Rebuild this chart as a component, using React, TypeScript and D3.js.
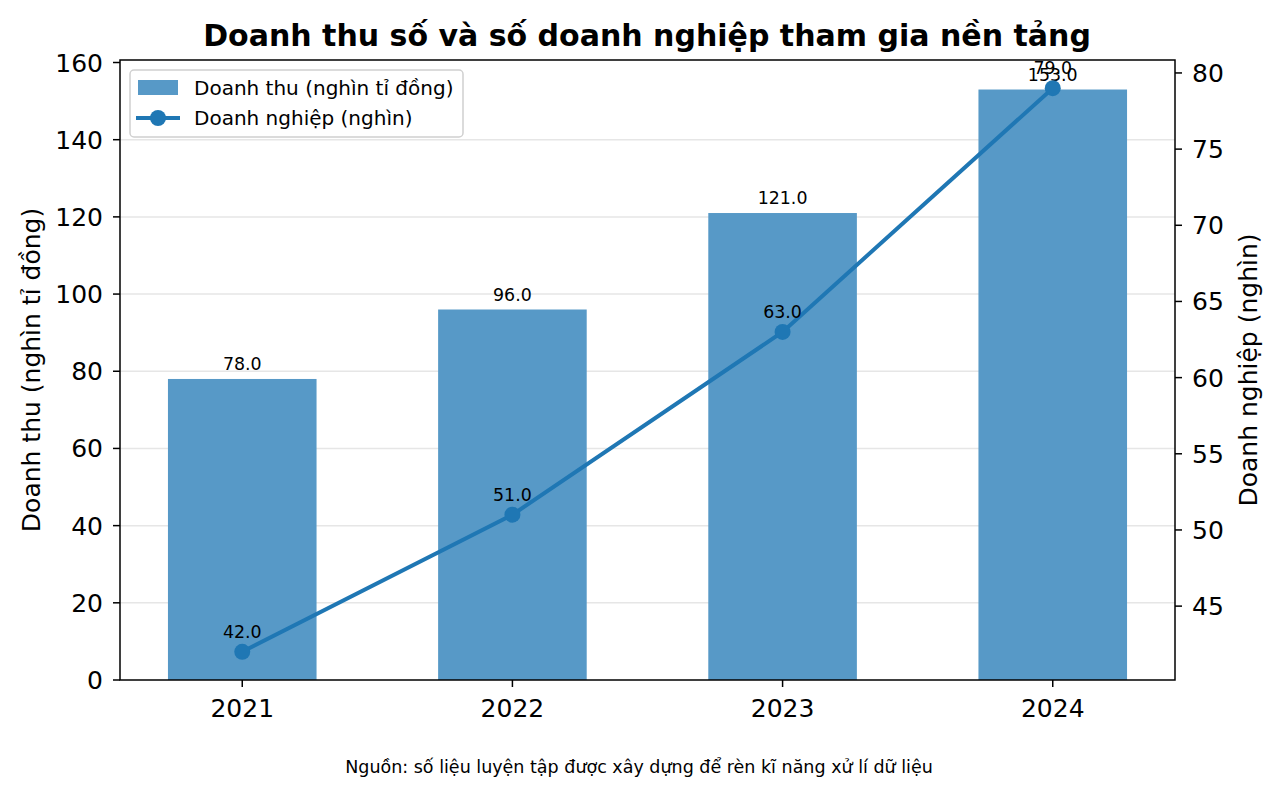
import * as d3 from "d3";

const years = ["2021", "2022", "2023", "2024"];
const revenue = [78, 96, 121, 153];
const firms = [42, 51, 63, 79];
const leftTicks = [0, 20, 40, 60, 80, 100, 120, 140, 160];
const rightTicks = [45, 50, 55, 60, 65, 70, 75, 80];

const W = 1277;
const H = 795;
const margin = { top: 60, right: 102, bottom: 115, left: 120 };
const chartW = W - margin.left - margin.right;
const chartH = H - margin.top - margin.bottom;

const font = "'DejaVu Sans', sans-serif";
const barColor = "#5799c7";
const lineColor = "#1f77b4";

export default function App() {
  const x = d3.scaleLinear().domain([-0.4525, 3.4525]).range([0, chartW]);
  const yL = d3.scaleLinear().domain([0, 160.65]).range([chartH, 0]);
  const yR = d3.scaleLinear().domain([40.15, 80.85]).range([chartH, 0]);
  const bw = x(0.55) - x(0);

  const line = d3
    .line<number>()
    .x((_, i) => x(i))
    .y((d) => yR(d));

  return (
    <svg width={W} height={H} style={{ display: "block", margin: "-8px" }} fontFamily={font}>
      <rect width={W} height={H} fill="#fff" />
      <text x={647} y={46} textAnchor="middle" fontSize={30} fontWeight="bold">
        Doanh thu số và số doanh nghiệp tham gia nền tảng
      </text>
      <g transform={`translate(${margin.left},${margin.top})`}>
        {leftTicks.slice(1, -1).map((t) => (
          <line key={t} x1={0} x2={chartW} y1={yL(t)} y2={yL(t)} stroke="#e6e6e6" strokeWidth={1.5} />
        ))}
        {revenue.map((v, i) => (
          <g key={i}>
            <rect x={x(i) - bw / 2} y={yL(v)} width={bw} height={chartH - yL(v)} fill={barColor} />
            <text x={x(i)} y={yL(v) - 9} textAnchor="middle" fontSize={17.4}>
              {v.toFixed(1)}
            </text>
          </g>
        ))}
        <path d={line(firms) ?? ""} fill="none" stroke={lineColor} strokeWidth={4} />
        {firms.map((v, i) => (
          <g key={i}>
            <circle cx={x(i)} cy={yR(v)} r={8} fill={lineColor} />
            <text x={x(i)} y={yR(v) - 14} textAnchor="middle" fontSize={17.4}>
              {v.toFixed(1)}
            </text>
          </g>
        ))}
        <rect x={0} y={0} width={chartW} height={chartH} fill="none" stroke="#000" strokeWidth={1.5} />
        {leftTicks.map((t) => (
          <g key={t} transform={`translate(0,${yL(t)})`}>
            <line x1={-7} x2={0} stroke="#000" strokeWidth={1.5} />
            <text x={-17} dy="0.36em" textAnchor="end" fontSize={25}>
              {t}
            </text>
          </g>
        ))}
        {rightTicks.map((t) => (
          <g key={t} transform={`translate(${chartW},${yR(t)})`}>
            <line x1={0} x2={7} stroke="#000" strokeWidth={1.5} />
            <text x={17} dy="0.36em" textAnchor="start" fontSize={25}>
              {t}
            </text>
          </g>
        ))}
        {years.map((yr, i) => (
          <g key={yr} transform={`translate(${x(i)},${chartH})`}>
            <line y1={0} y2={7} stroke="#000" strokeWidth={1.5} />
            <text y={37} textAnchor="middle" fontSize={25}>
              {yr}
            </text>
          </g>
        ))}
        <text
          transform={`translate(${-80},${chartH / 2}) rotate(-90)`}
          textAnchor="middle"
          fontSize={25}
        >
          Doanh thu (nghìn tỉ đồng)
        </text>
        <text
          transform={`translate(${chartW + 82},${chartH / 2}) rotate(-90)`}
          textAnchor="middle"
          fontSize={25}
        >
          Doanh nghiệp (nghìn)
        </text>
        <g transform="translate(10,10)">
          <rect x={0} y={0} width={333} height={67} rx={4} fill="#fff" fillOpacity={0.8} stroke="#d0d0d0" strokeWidth={1.5} />
          <rect x={8} y={10} width={40} height={15} fill={barColor} />
          <text x={64} y={25} fontSize={20}>
            Doanh thu (nghìn tỉ đồng)
          </text>
          <line x1={6} x2={50} y1={48} y2={48} stroke={lineColor} strokeWidth={4} />
          <circle cx={28} cy={48} r={8} fill={lineColor} />
          <text x={64} y={55} fontSize={20}>
            Doanh nghiệp (nghìn)
          </text>
        </g>
      </g>
      <text x={639} y={773} textAnchor="middle" fontSize={17.5}>
        Nguồn: số liệu luyện tập được xây dựng để rèn kĩ năng xử lí dữ liệu
      </text>
    </svg>
  );
}
